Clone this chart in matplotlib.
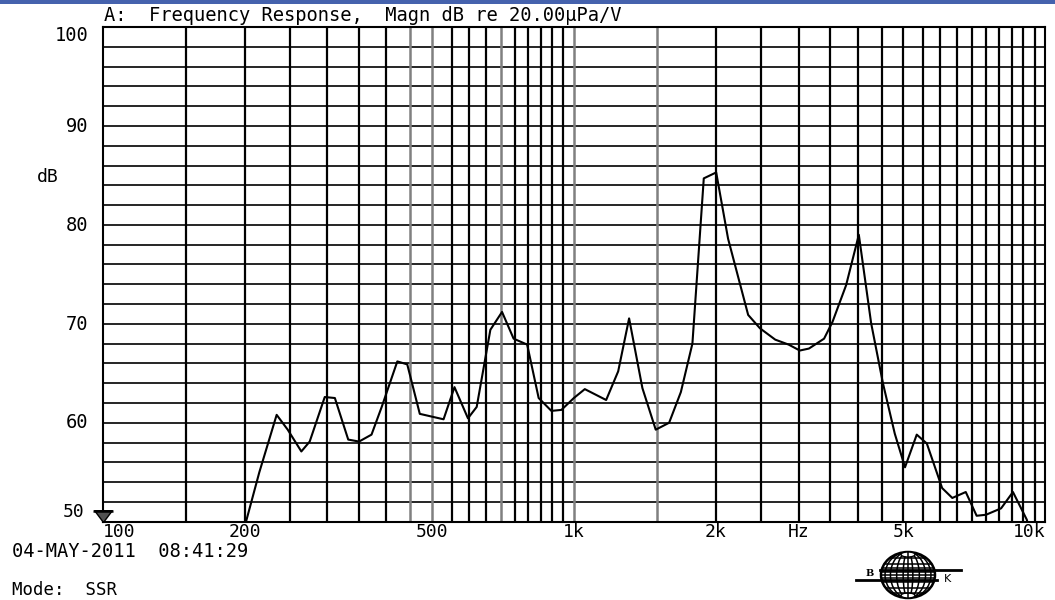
import numpy as np
import matplotlib
matplotlib.use("Agg")
import matplotlib.pyplot as plt
from matplotlib.patches import Ellipse, Rectangle
from matplotlib.path import Path

# Datos (frecuencia en Hz, nivel en dB)
freqs = [195, 215, 234, 247, 264, 275, 296, 311, 332, 350, 372, 391, 422, 443,
         471, 529, 558, 596, 622, 665, 704, 745, 796, 842, 896, 941, 1000,
         1055, 1171, 1242, 1310, 1398, 1492, 1593, 1687, 1785, 1887, 2005,
         2125, 2344, 2483, 2676, 2857, 3017, 3155, 3397, 3540, 3783, 4026,
         4276, 4529, 4799, 5045, 5343, 5613, 6049, 6357, 6789, 7160, 7493,
         8069, 8550, 9150, 9600]
niveles = [47.5, 55.0, 60.8, 59.3, 57.1, 58.1, 62.6, 62.5, 58.3, 58.1, 58.8,
           61.6, 66.2, 65.9, 60.9, 60.35, 63.6, 60.45, 61.6, 69.4, 71.2, 68.5,
           67.9, 62.5, 61.2, 61.3, 62.5, 63.4, 62.3, 65.2, 70.55, 63.5, 59.3,
           60.0, 63.1, 68.0, 84.7, 85.3, 78.6, 70.9, 69.55, 68.4, 67.9, 67.3,
           67.5, 68.5, 70.2, 73.9, 79.0, 70.05, 64.0, 58.9, 55.5, 58.8, 57.9,
           53.4, 52.4, 53.0, 50.6, 50.7, 51.35, 53.0, 50.2, 46.0]

# Rejilla vertical (negras y grises)
lineas_negras = [150, 200, 250, 300, 350, 400, 550, 600, 650, 750, 800, 850,
                 900, 950, 2000, 2500, 3000, 3500, 4000, 4500, 5000, 5500,
                 6000, 6500, 7000, 7500, 8000, 8500, 9000, 9500]
lineas_grises = [450, 500, 700, 1000, 1500]

y_ticks = [100, 90, 80, 70, 60, 50]
x_ticks = [100, 200, 500, 1000, 2000, 3000, 5000, 10000]
x_labels = ["100", "200", "500", "1k", "2k", "Hz", "5k", "10k"]

titulo = "A:  Frequency Response,  Magn dB re 20.00\u00b5Pa/V"
fecha = "04-MAY-2011  08:41:29"
modo = "Mode:  SSR"

W, H = 1055, 600
FUENTE = ['DejaVu Sans Mono', 'DejaVu Sans']
plt.rcParams['font.family'] = FUENTE
fig = plt.figure(figsize=(W / 100, H / 100), dpi=100)
fig.patch.set_facecolor("white")

# Barra azul superior
fig.patches.append(Rectangle((0, 1 - 4 / H), 1, 4 / H, transform=fig.transFigure,
                             facecolor="#4562ad", edgecolor="none"))

ax = fig.add_axes([102.7 / W, 1 - 521.7 / H, (1045 - 102.7) / W, (521.7 - 27) / H])
ax.set_xscale("log")
ax.set_xlim(100, 10000)
ax.set_ylim(50, 100)
ax.set_xticks([])
ax.set_xticks([], minor=True)
ax.set_yticks([])
for s in ax.spines.values():
    s.set_linewidth(1.5)
    s.set_color("black")

for v in np.arange(52, 100, 2):
    ax.axhline(v, color="black", lw=1.2, zorder=1)
for f in lineas_negras:
    ax.axvline(f, color="black", lw=1.6, zorder=1)
for f in lineas_grises:
    ax.axvline(f, color="#808080", lw=1.8, zorder=1)

ax.plot(freqs, niveles, color="black", lw=1.5, zorder=3)

# Marcador triangular en 100 Hz / 50 dB
tri = [(0, 0), (-0.75, 1.0), (0.75, 1.0), (0, 0)]
ax.plot([100], [50], marker=tri, markersize=17, markerfacecolor="#505050",
        markeredgecolor="black", markeredgewidth=1, clip_on=False, zorder=5)
barra = Path([(-0.9, 1.0), (0.9, 1.0)], [Path.MOVETO, Path.LINETO])
ax.plot([100], [50], marker=barra, markersize=16, markeredgecolor="black",
        markeredgewidth=1.8, clip_on=False, zorder=6)

# Etiquetas eje Y
ytr = ax.get_yaxis_transform()
for v in y_ticks:
    if v == 100:
        ax.text(-0.0156, 98.62, str(v), transform=ytr, ha="right", va="baseline",
                fontsize=13.5)
    elif v == 50:
        ax.text(-0.019, 50.47, str(v), transform=ytr, ha="right", va="baseline",
                fontsize=13)
    else:
        ax.text(-0.0156, v - 0.58, str(v), transform=ytr, ha="right", va="baseline",
                fontsize=13.5)

# Etiquetas eje X
xtr = ax.get_xaxis_transform()
yb = -(537 - 521.7) / (521.7 - 27)
for f, lab in zip(x_ticks, x_labels):
    ha = "center"
    if f == 100:
        ha = "left"
    elif f == 10000:
        ha = "right"
    ax.text(f, yb, lab, transform=xtr, ha=ha, va="baseline", fontsize=13)

fig.text(37 / W, 1 - 181.7 / H, "dB", ha="left", va="baseline", fontsize=13)
fig.text(104 / W, 1 - 20.7 / H, titulo, ha="left", va="baseline", fontsize=13.5)
fig.text(11.7 / W, 1 - 556.7 / H, fecha, ha="left", va="baseline", fontsize=13.5)
fig.text(11.7 / W, 1 - 595 / H, modo, ha="left", va="baseline", fontsize=12.5)

# Logo B&K (coordenadas en pixeles)
lx0, lx1, ly0, ly1 = 845, 970, 545, 600
lax = fig.add_axes([lx0 / W, 1 - ly1 / H, (lx1 - lx0) / W, (ly1 - ly0) / H])
lax.set_xlim(lx0, lx1)
lax.set_ylim(ly1, ly0)
lax.axis("off")
cx, cy, gw, gh = 908, 575, 54, 46
globo = Ellipse((cx, cy), gw, gh, facecolor="white", edgecolor="black", lw=1.8)
lax.add_patch(globo)
for k in [0.18, 0.42, 0.65, 0.85]:
    m = Ellipse((cx, cy), gw * k, gh, facecolor="none", edgecolor="black", lw=1.1)
    m.set_clip_path(globo)
    lax.add_patch(m)
lax.plot([cx, cx], [cy - gh / 2, cy + gh / 2], color="black", lw=1.1)
for yy in [558, 564, 568, 572, 575, 578, 582, 588, 593]:
    lax.plot([cx - gw / 2, cx + gw / 2], [yy, yy], color="black", lw=1.1,
             clip_path=globo)
lax.add_patch(Ellipse((cx, cy - gh / 2 + 2.5), 14, 5, facecolor="white",
                      edgecolor="black", lw=1.0))
lax.add_patch(Ellipse((cx, cy + gh / 2 - 2.5), 14, 5, facecolor="white",
                      edgecolor="black", lw=1.0))
lax.plot([879.7, 960.8], [569.5, 569.5], color="black", lw=2.0)
lax.plot([856, 937], [579.7, 579.7], color="black", lw=2.0)
lax.text(869.6, 573.5, "B", ha="center", va="center", fontsize=7, fontweight="bold",
         family="DejaVu Serif")
lax.text(947, 578.6, "K", ha="center", va="center", fontsize=8,
         family="DejaVu Sans")

fig.savefig("out.png", dpi=100)
